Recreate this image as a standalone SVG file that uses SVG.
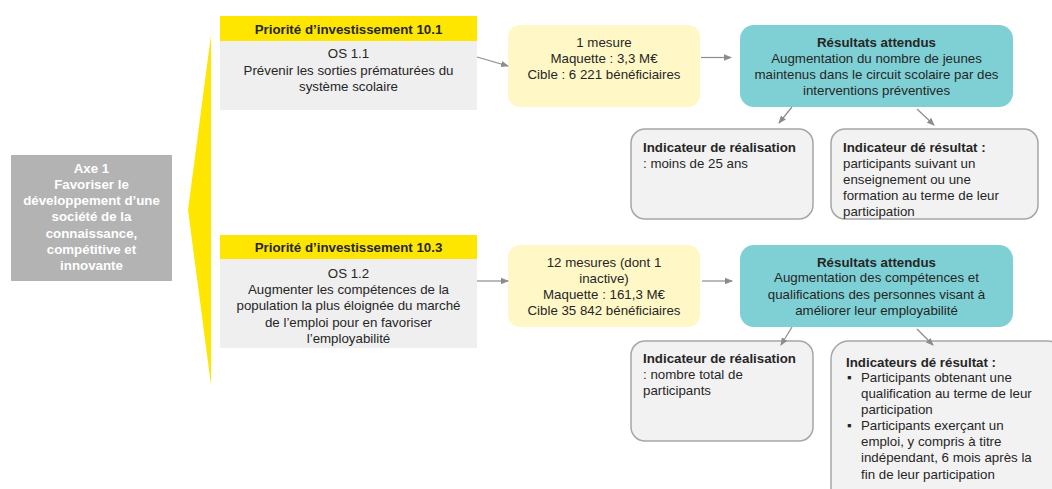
<svg xmlns="http://www.w3.org/2000/svg" width="1052" height="489" viewBox="0 0 1052 489">
<defs>
<marker id="ah" markerWidth="8" markerHeight="8" refX="7" refY="4" orient="auto" markerUnits="userSpaceOnUse">
<path d="M0,0.8 L8,4 L0,7.2 z" fill="#8c8c8c"/>
</marker>
</defs>
<style>
text{font-family:"Liberation Sans",Arial,sans-serif;font-size:13.3px;fill:#262626}
.c{text-anchor:middle}
.b{font-weight:bold}
.w{fill:#ffffff;font-weight:bold}
.hdr{fill:#FFE600}
.os{fill:#EFEFEF}
.ly{fill:#FFF8C6}
.tl{fill:#7ED0D5}
.ind{fill:#F2F2F2;stroke:#A6A6A6;stroke-width:1.5}
.cn{stroke:#8c8c8c;stroke-width:1.2;fill:none;marker-end:url(#ah)}
</style>
<rect width="1052" height="489" fill="#ffffff"/>
<g id="wedge"><polygon points="211,35 188,210 211,385" fill="#FFE600"/></g>
<g id="axe">
<rect x="11" y="155" width="161" height="126" fill="#B3B3B3"/>
<text class="c w" x="91.5" y="173">Axe 1</text>
<text class="c w" x="91.5" y="189">Favoriser le</text>
<text class="c w" x="91.5" y="205">développement d’une</text>
<text class="c w" x="91.5" y="221">société de la</text>
<text class="c w" x="91.5" y="238">connaissance,</text>
<text class="c w" x="91.5" y="254">compétitive et</text>
<text class="c w" x="91.5" y="270">innovante</text>
</g>
<g id="pi1">
<rect class="hdr" x="220" y="16" width="257" height="25"/>
<rect class="os" x="220" y="41" width="257" height="69"/>
<text class="c b" x="348.5" y="34">Priorité d’investissement 10.1</text>
<text class="c" x="348.5" y="58">OS 1.1</text>
<text class="c" x="348.5" y="75">Prévenir les sorties prématurées du</text>
<text class="c" x="348.5" y="91">système scolaire</text>
</g>
<g id="pi2">
<rect class="hdr" x="220" y="235" width="257" height="24"/>
<rect class="os" x="220" y="259" width="257" height="89"/>
<text class="c b" x="348.5" y="252">Priorité d’investissement 10.3</text>
<text class="c" x="348.5" y="278">OS 1.2</text>
<text class="c" x="348.5" y="294">Augmenter les compétences de la</text>
<text class="c" x="348.5" y="310">population la plus éloignée du marché</text>
<text class="c" x="348.5" y="327">de l’emploi pour en favoriser</text>
<text class="c" x="348.5" y="343">l’employabilité</text>
</g>
<g id="mes1">
<rect class="ly" x="508" y="25" width="192" height="82" rx="12"/>
<text class="c" x="604" y="47">1 mesure</text>
<text class="c" x="604" y="63">Maquette : 3,3 M€</text>
<text class="c" x="604" y="79">Cible : 6 221 bénéficiaires</text>
</g>
<g id="mes2">
<rect class="ly" x="508" y="245" width="192" height="82" rx="12"/>
<text class="c" x="604" y="267">12 mesures (dont 1</text>
<text class="c" x="604" y="283">inactive)</text>
<text class="c" x="604" y="299">Maquette : 161,3 M€</text>
<text class="c" x="604" y="315">Cible 35 842 bénéficiaires</text>
</g>
<g id="res1">
<rect class="tl" x="740" y="25" width="273" height="82" rx="14"/>
<text class="c b" x="876.5" y="47">Résultats attendus</text>
<text class="c" x="876.5" y="63">Augmentation du nombre de jeunes</text>
<text class="c" x="876.5" y="79">maintenus dans le circuit scolaire par des</text>
<text class="c" x="876.5" y="95">interventions préventives</text>
</g>
<g id="res2">
<rect class="tl" x="740" y="245" width="273" height="82" rx="14"/>
<text class="c b" x="876.5" y="267">Résultats attendus</text>
<text class="c" x="876.5" y="282">Augmentation des compétences et</text>
<text class="c" x="876.5" y="299">qualifications des personnes visant à</text>
<text class="c" x="876.5" y="315">améliorer leur employabilité</text>
</g>
<g id="ir1">
<rect class="ind" x="631" y="129" width="182" height="90" rx="14"/>
<text class="b" x="643" y="152">Indicateur de réalisation</text>
<text x="643" y="168">: moins de 25 ans</text>
</g>
<g id="rr1">
<rect class="ind" x="831" y="129" width="207" height="90" rx="14"/>
<text class="b" x="843" y="152">Indicateur dé résultat :</text>
<text x="843" y="168">participants suivant un</text>
<text x="843" y="184">enseignement ou une</text>
<text x="843" y="200">formation au terme de leur</text>
<text x="843" y="216">participation</text>
</g>
<g id="ir2">
<rect class="ind" x="631" y="341" width="182" height="100" rx="14"/>
<text class="b" x="643" y="363">Indicateur de réalisation</text>
<text x="643" y="379">: nombre total de</text>
<text x="643" y="395">participants</text>
</g>
<g id="rr2">
<rect class="ind" x="831" y="341" width="235" height="165" rx="18"/>
<text class="b" x="846" y="367">Indicateurs dé résultat :</text>
<text x="847" y="382">▪</text>
<text x="861" y="382">Participants obtenant une</text>
<text x="861" y="398">qualification au terme de leur</text>
<text x="861" y="414">participation</text>
<text x="847" y="430">▪</text>
<text x="861" y="430">Participants exerçant un</text>
<text x="861" y="446">emploi, y compris à titre</text>
<text x="861" y="462">indépendant, 6 mois après la</text>
<text x="861" y="479">fin de leur participation</text>
</g>
<g id="connectors">
<line class="cn" x1="477" y1="57" x2="508" y2="66"/>
<line class="cn" x1="701" y1="57.5" x2="731" y2="57.5"/>
<line class="cn" x1="792" y1="107" x2="779" y2="123"/>
<line class="cn" x1="917" y1="109" x2="934" y2="125"/>
<line class="cn" x1="477" y1="281" x2="508" y2="281"/>
<line class="cn" x1="702" y1="281" x2="732" y2="281"/>
<line class="cn" x1="792" y1="327" x2="781" y2="345"/>
<line class="cn" x1="917" y1="329" x2="933" y2="345"/>
</g>
</svg>
